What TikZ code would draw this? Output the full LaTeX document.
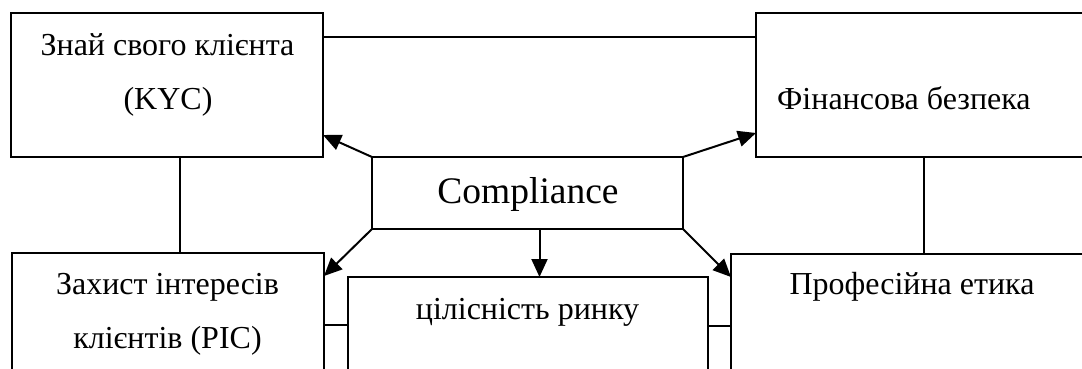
\documentclass[tikz,border=0pt]{standalone}
\usepackage{fontspec}
\setmainfont{Liberation Serif}
\usetikzlibrary{arrows.meta}
\begin{document}
\begin{tikzpicture}[x=1pt,y=-1pt,
  box/.style={draw=black,line width=2pt,rectangle,inner sep=0pt,outer sep=0pt,anchor=north west,fill=none},
  txt/.style={font=\fontsize{32}{38}\selectfont,inner sep=0pt,anchor=base},
  bigtxt/.style={font=\fontsize{37.5}{44}\selectfont,inner sep=0pt,anchor=base},
  conn/.style={draw=black,line width=2pt},
  arr/.style={conn,-{Triangle[length=18pt,width=16pt]}}]
\useasboundingbox (0,0) rectangle (1082,368);
\clip (0,0) rectangle (1082,368);
% boxes
\node[box,minimum width=312pt,minimum height=144pt] (kyc) at (11,13) {};
\node[box,minimum width=344pt,minimum height=144pt] (fin) at (756,13) {};
\node[box,minimum width=311pt,minimum height=72pt] (comp) at (372,157) {};
\node[box,minimum width=312pt,minimum height=147pt] (zah) at (12,253) {};
\node[box,minimum width=360pt,minimum height=123pt] (cil) at (348,277) {};
\node[box,minimum width=369pt,minimum height=146pt] (prof) at (731,254) {};
% texts
\node[txt] (kyc1) at (167.5,55) {Знай свого клієнта};
\node[txt] (kyc2) at (168,109) {(KYC)};
\node[txt,anchor=base west] (fin1) at (777,109) {Фінансова безпека};
\node[bigtxt] (comp1) at (528,203) {Compliance};
\node[txt] (zah1) at (167.5,294) {Захист інтересів};
\node[txt] (zah2) at (167.5,348) {клієнтів (PIC)};
\node[txt] (cil1) at (527.5,319) {цілісність ринку};
\node[txt] (prof1) at (912,294) {Професійна етика};
% plain connectors
\draw[conn] ([yshift=-24pt]kyc.north east) -- ([yshift=-24pt]fin.north west);
\draw[conn] ([xshift=169pt]kyc.south west) -- ([xshift=169pt]kyc.south west |- zah.north);
\draw[conn] ([xshift=168pt]fin.south west) -- ([xshift=168pt]fin.south west |- prof.north);
\draw[conn] ([yshift=-72pt]zah.north east) -- ([yshift=-72pt]zah.north east -| cil.west);
\draw[conn] ([yshift=-49pt]cil.north east) -- ([yshift=-49pt]cil.north east -| prof.west);
% arrows
\draw[arr] (comp.north west) -- ([yshift=22pt]kyc.south east);
\draw[arr] (comp.north east) -- ([yshift=24pt]fin.south west);
\draw[arr] (comp.south west) -- ([yshift=-23pt]zah.north east);
\draw[arr] (comp.south east) -- ([yshift=-23pt]prof.north west);
\draw[arr] ([xshift=12pt]comp.south) -- ([xshift=12pt]comp.south |- cil.north);
\end{tikzpicture}
\end{document}
